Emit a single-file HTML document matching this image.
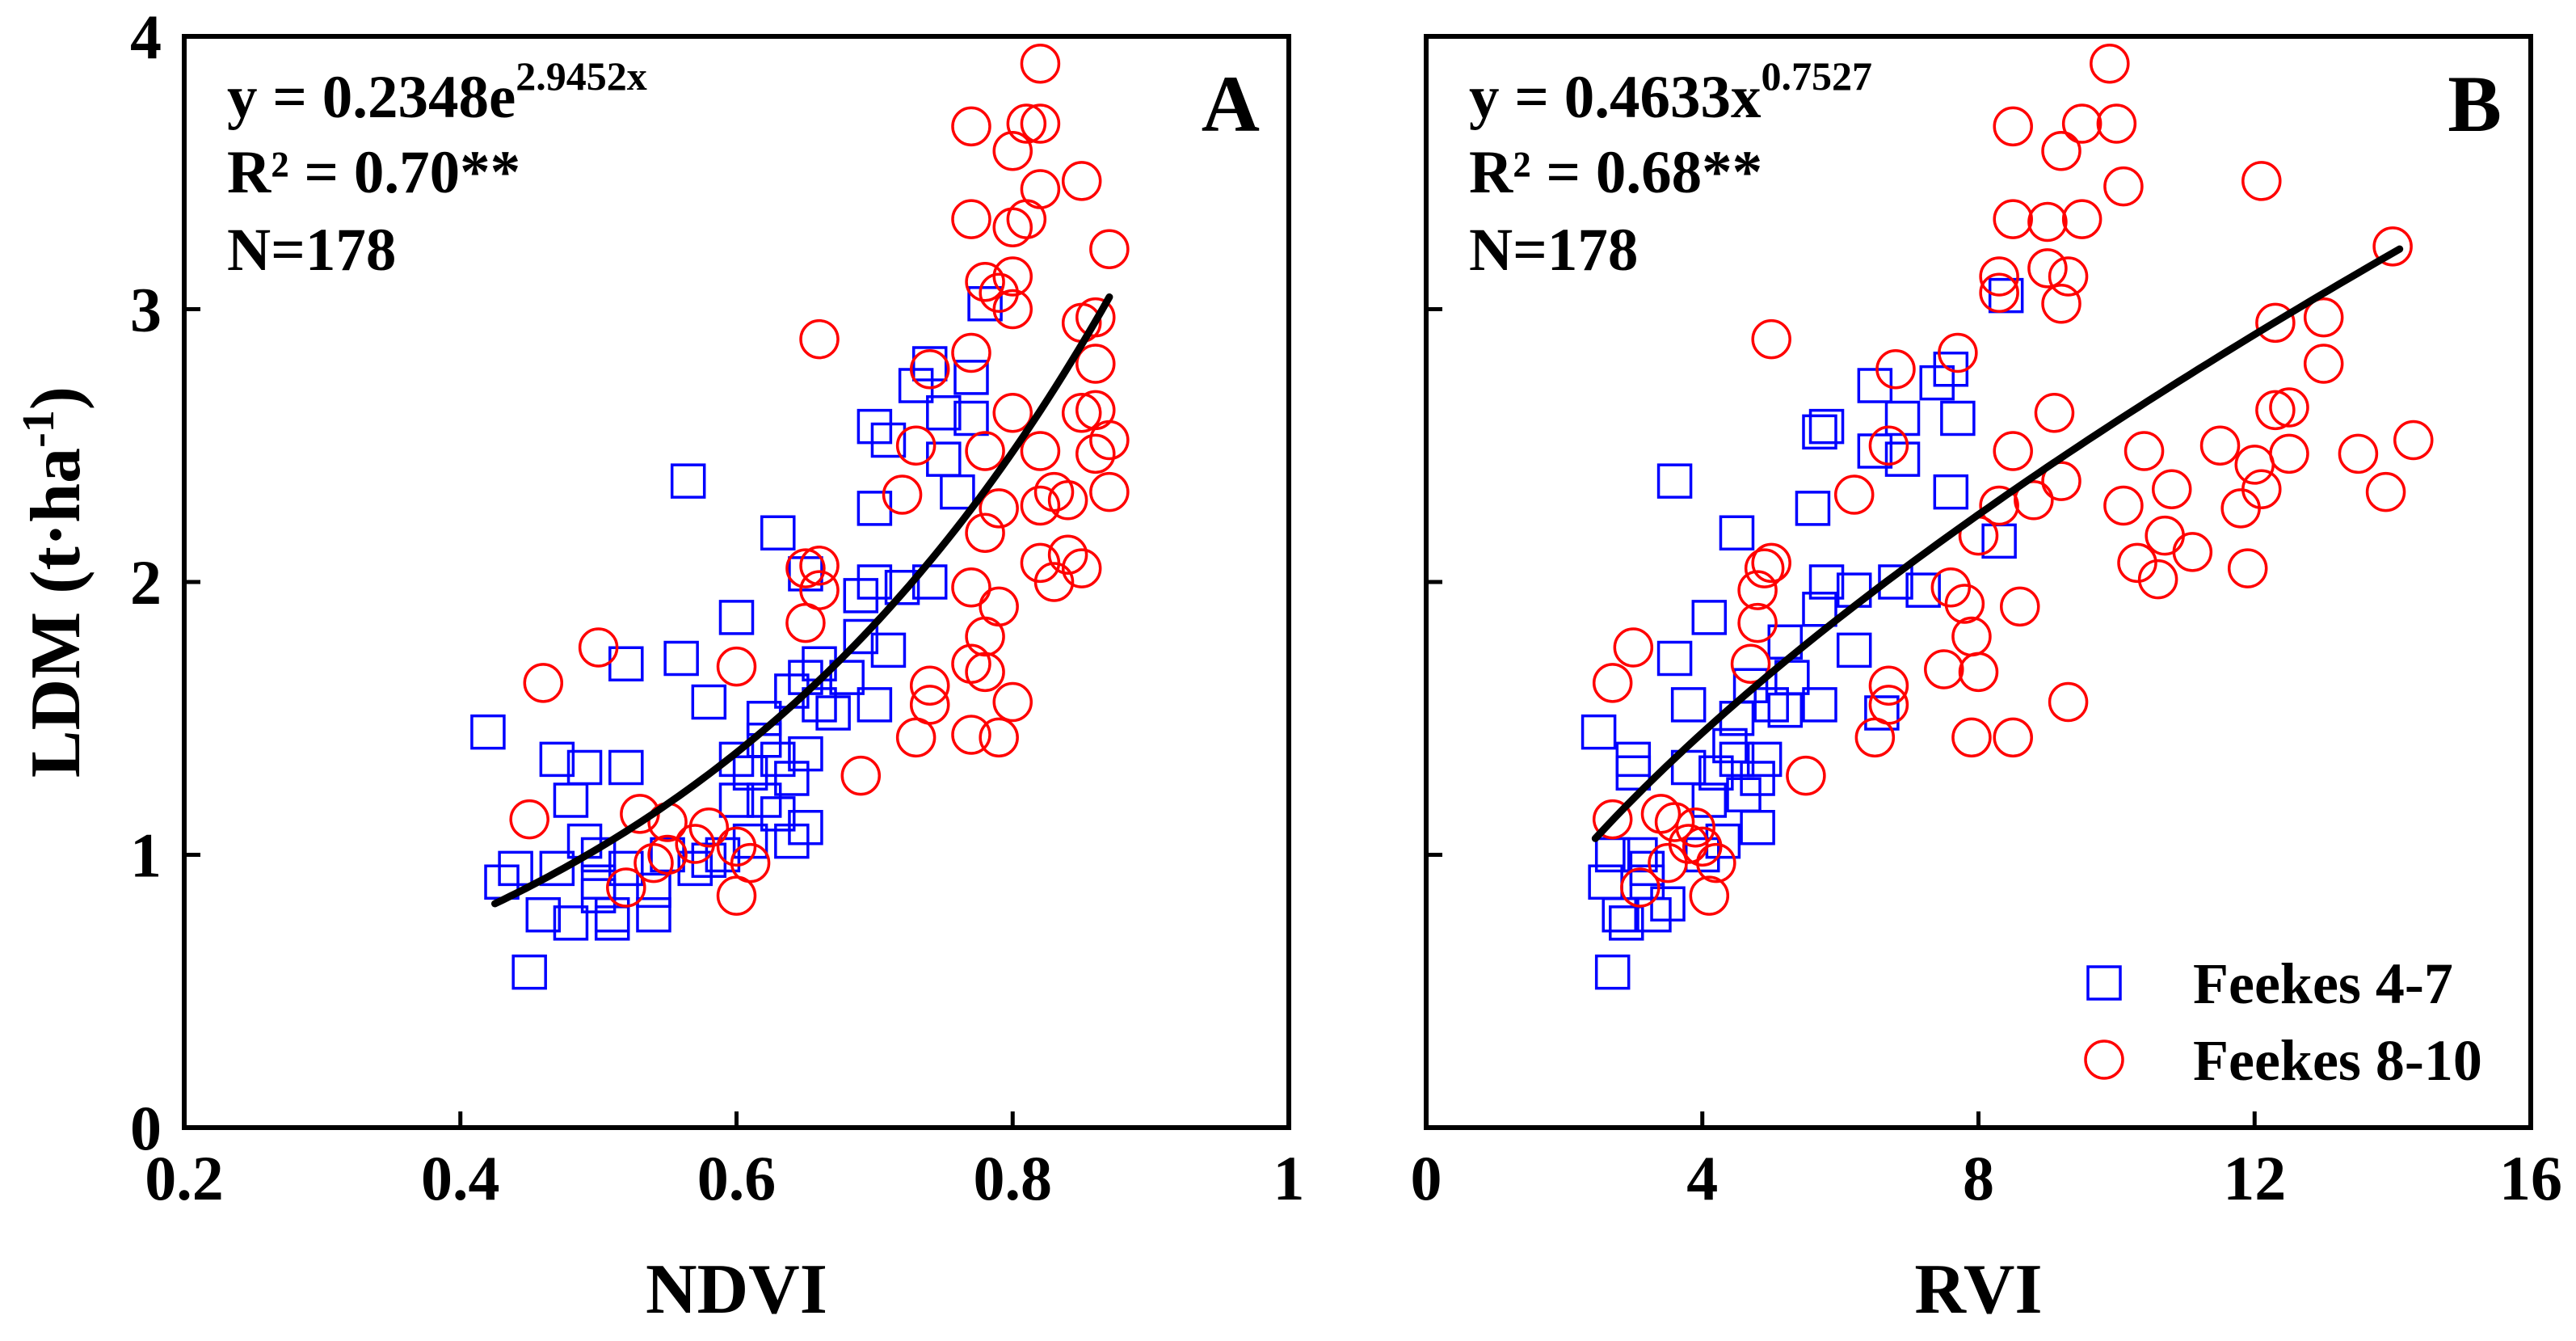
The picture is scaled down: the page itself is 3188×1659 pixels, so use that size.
<!DOCTYPE html>
<html><head><meta charset="utf-8"><style>
html,body{margin:0;padding:0;background:#fff;}
svg{display:block;font-family:"Liberation Serif",serif;font-weight:bold;}
</style></head><body>
<svg id="chart" width="3188" height="1659" viewBox="0 0 3188 1659" xmlns="http://www.w3.org/2000/svg"></svg>
<script>
const ndviTicks=[0.2,0.4,0.6,0.8,1];
const ndviTickLabels=["0.2","0.4","0.6","0.8","1"];
const rviTicks=[0,4,8,12,16];
const rviTickLabels=["0","4","8","12","16"];
const ldmTicks=[0,1,2,3,4];
const ldmTickLabels=["0","1","2","3","4"];
const fitA=[0.2348,2.9452];
const fitB=[0.60,0.635];
const rangeA=[0.425,0.87];
const rangeB=[2.45,14.1];
const aBlueX=[0.42,0.43,0.44,0.45,0.46,0.47,0.48,0.48,0.49,0.49,0.5,0.5,0.51,0.51,0.52,0.52,0.52,0.54,0.54,0.56,0.565,0.57,0.58,0.59,0.6,0.6,0.6,0.61,0.61,0.62,0.62,0.63,0.63,0.63,0.64,0.64,0.64,0.65,0.65,0.65,0.65,0.66,0.67,0.68,0.69,0.7,0.7,0.7,0.7,0.71,0.71,0.72,0.73,0.74,0.74,0.75,0.75,0.76,0.77,0.77,0.78,0.69,0.66,0.62,0.58,0.55,0.47,0.5];
const aBlueY=[1.45,0.9,0.95,0.57,0.78,1.35,0.75,1.2,1.32,1.05,0.9,1.0,0.78,0.75,1.7,1.32,0.95,0.78,0.87,1.72,2.37,0.95,1.56,1.0,1.87,1.35,1.2,1.3,1.05,1.5,1.2,1.35,1.15,2.18,1.28,1.05,1.6,1.1,1.37,2.03,1.65,1.55,1.52,1.65,1.8,1.55,2.0,2.27,2.57,1.75,2.52,1.98,2.72,2.8,2.0,2.45,2.62,2.33,2.75,2.6,3.02,1.95,1.7,1.42,0.98,1.0,0.95,0.85];
const aRedX=[0.45,0.46,0.5,0.52,0.53,0.54,0.55,0.55,0.57,0.58,0.6,0.6,0.61,0.6,0.65,0.66,0.65,0.66,0.66,0.69,0.72,0.73,0.74,0.74,0.73,0.74,0.77,0.77,0.77,0.77,0.77,0.77,0.78,0.78,0.78,0.78,0.78,0.79,0.79,0.79,0.79,0.8,0.8,0.8,0.8,0.8,0.8,0.81,0.81,0.82,0.82,0.82,0.82,0.82,0.82,0.83,0.83,0.84,0.84,0.85,0.85,0.85,0.85,0.86,0.86,0.86,0.87,0.87,0.87,0.86];
const aRedY=[1.13,1.63,1.76,0.88,1.15,0.97,1.0,1.12,1.04,1.1,0.85,1.03,0.97,1.69,1.85,1.97,2.05,2.06,2.89,1.29,2.32,1.43,1.55,1.62,2.5,2.78,1.44,1.7,1.98,2.84,3.33,3.67,1.67,1.8,2.18,2.48,3.1,3.06,2.27,1.43,1.91,1.56,2.62,3.0,3.12,3.3,3.58,3.33,3.68,3.68,3.9,3.44,2.48,2.28,2.07,2.0,2.33,2.1,2.3,2.05,2.62,2.95,3.47,2.63,2.8,2.97,3.22,2.52,2.33,2.47];
const bBlueX=[2.5,2.6,2.7,2.7,2.8,2.9,3.0,3.0,3.1,3.2,3.3,3.6,3.6,3.8,3.8,4.0,4.1,4.1,4.2,4.3,4.5,4.5,4.5,4.6,4.7,4.8,4.8,4.9,5.0,5.2,5.3,5.6,5.7,5.7,5.8,5.8,5.7,6.2,6.2,6.5,6.5,6.6,6.8,6.9,6.9,7.2,7.4,7.6,7.7,7.6,8.4,8.3,5.2,4.4,3.2,3.5];
const bBlueY=[1.45,0.9,0.57,1.0,0.78,0.75,1.35,1.3,1.0,0.9,0.78,1.72,2.37,1.55,1.32,1.0,1.2,1.87,1.3,1.05,2.18,1.35,1.5,1.22,1.62,1.1,1.28,1.35,1.55,1.53,1.65,2.27,1.55,2.55,2.57,2.0,1.9,1.75,1.97,2.48,2.72,1.52,2.0,2.45,2.6,1.97,2.73,2.78,2.6,2.33,3.05,2.15,1.78,1.4,0.95,0.82];
const bRedX=[2.7,2.7,3.0,3.1,3.4,3.5,3.6,3.8,3.9,4.0,4.1,4.2,4.7,4.8,4.8,4.9,5.0,5.0,5.5,6.2,6.5,6.7,6.7,6.7,6.8,7.5,7.6,7.7,7.8,7.9,7.9,8.0,8.0,8.3,8.3,8.3,8.5,8.5,8.5,8.5,8.6,8.8,9.0,9.0,9.1,9.2,9.2,9.2,9.3,9.3,9.5,9.5,9.9,10.0,10.1,10.1,10.3,10.4,10.6,10.7,10.8,11.1,11.5,11.9,11.8,12.0,12.1,12.1,12.3,12.3,12.5,12.5,13.0,13.0,13.5,13.9,14.0,14.3];
const bRedY=[1.13,1.63,1.76,0.88,1.15,0.97,1.12,1.04,1.1,1.03,0.85,0.97,1.7,1.85,1.97,2.05,2.07,2.89,1.29,2.32,1.43,1.55,1.62,2.5,2.78,1.68,1.98,2.84,1.92,1.8,1.43,1.67,2.17,2.28,3.12,3.06,1.43,2.48,3.33,3.67,1.91,2.3,3.32,3.15,2.62,2.37,3.58,3.02,3.12,1.56,3.33,3.68,3.9,3.68,3.45,2.28,2.07,2.48,2.01,2.17,2.34,2.11,2.5,2.05,2.27,2.43,3.47,2.34,2.95,2.63,2.47,2.64,2.97,2.8,2.47,2.33,3.23,2.52];

const NS="http://www.w3.org/2000/svg";
const svg=document.getElementById('chart');
function mk(tag,attrs,parent){const e=document.createElementNS(NS,tag);for(const k in attrs)e.setAttribute(k,attrs[k]);(parent||svg).appendChild(e);return e;}
const Y0=1395,Y1=45;
function yS(v){return Y0-(v-0)/(4-0)*(Y0-Y1);}

function panel(id,x0,x1,xmin,xmax,xt,xtl,title,letter,blueX,blueY,redX,redY,fitFn,range,eqMain,eqExp,r2,showYLabels){
  const g=mk('g',{});
  
  
  const xS=v=>x0+(v-xmin)/(xmax-xmin)*(x1-x0);
  xt.forEach((t,i)=>{
    const tk=mk('line',{x1:xS(t),x2:xS(t),y1:Y0,y2:Y0-20,stroke:'#000','stroke-width':5},g);
    
    
    const lb=mk('text',{x:xS(t),y:1484,'font-size':78,'text-anchor':'middle'},g);
    lb.textContent=xtl[i];
    
    
  });
  ldmTicks.forEach((t,i)=>{
    const tk=mk('line',{x1:x0,x2:x0+20,y1:yS(t),y2:yS(t),stroke:'#000','stroke-width':5},g);
    
    
    if(showYLabels){
      const lb=mk('text',{x:x0-28,y:yS(t)+27,'font-size':78,'text-anchor':'end'},g);
      lb.textContent=ldmTickLabels[i];
      
      
    }
  });
  blueX.forEach((x,i)=>{
    const r=mk('rect',{x:xS(x)-20,y:yS(blueY[i])-20,width:40,height:40,fill:'none',stroke:'#0000ff','stroke-width':3.5},g);
    
    
  });
  redX.forEach((x,i)=>{
    const c=mk('circle',{cx:xS(x),cy:yS(redY[i]),r:23,fill:'none',stroke:'#ff0000','stroke-width':3.5},g);
    
    
  });
  let d='';
  for(let k=0;k<=80;k++){const x=range[0]+(range[1]-range[0])*k/80;d+=(k?'L':'M')+xS(x).toFixed(1)+','+yS(fitFn(x)).toFixed(1);}
  const p=mk('path',{d:d,fill:'none',stroke:'#000','stroke-width':9,'stroke-linecap':'round'},g);
  
  
  const fr=mk('rect',{x:x0,y:Y1,width:x1-x0,height:Y0-Y1,fill:'none',stroke:'#000','stroke-width':6},g);
  
  
  const tx=x0+53;
  const e1=mk('text',{x:tx,y:145,'font-size':75},g);
  
  
  e1.appendChild(document.createTextNode(eqMain));
  const sp=mk('tspan',{dy:-34,'font-size':50},e1);sp.textContent=eqExp;
  const e2=mk('text',{x:tx,y:238,'font-size':75},g);
  e2.textContent=r2;
  
  
  const e3=mk('text',{x:tx,y:334,'font-size':75},g);
  e3.textContent='N=178';
  
  
  const L=mk('text',{x:x1-36,y:162,'font-size':100,'text-anchor':'end'},g);
  L.textContent=letter;
  
  
  const T=mk('text',{x:(x0+x1)/2,y:1624,'font-size':88,'text-anchor':'middle'},g);
  T.textContent=title;
  
  
}
panel('a',228,1595,0.2,1,ndviTicks,ndviTickLabels,'NDVI','A',aBlueX,aBlueY,aRedX,aRedY,x=>fitA[0]*Math.exp(fitA[1]*x),rangeA,'y = 0.2348e','2.9452x','R² = 0.70**',true);
panel('b',1765,3132,0,16,rviTicks,rviTickLabels,'RVI','B',bBlueX,bBlueY,bRedX,bRedY,x=>fitB[0]*Math.pow(x,fitB[1]),rangeB,'y = 0.4633x','0.7527','R² = 0.68**',false);
const yt=mk('text',{x:0,y:0,'font-size':88,'text-anchor':'middle',transform:'translate(98,720) rotate(-90)'});


yt.appendChild(document.createTextNode('LDM (t·ha'));
const ys=mk('tspan',{dy:-32,'font-size':56},yt);ys.textContent='-1';
const ye=mk('tspan',{dy:32},yt);ye.textContent=')';
const lg=mk('g',{});


const ls=mk('rect',{x:2584,y:1196,width:40,height:40,fill:'none',stroke:'#0000ff','stroke-width':3.5},lg);


const lt1=mk('text',{x:2714,y:1241,'font-size':72},lg);lt1.textContent='Feekes 4-7';


const lc=mk('circle',{cx:2604,cy:1311,r:23,fill:'none',stroke:'#ff0000','stroke-width':3.5},lg);


const lt2=mk('text',{x:2714,y:1336,'font-size':72},lg);lt2.textContent='Feekes 8-10';


</script>
</body></html>
